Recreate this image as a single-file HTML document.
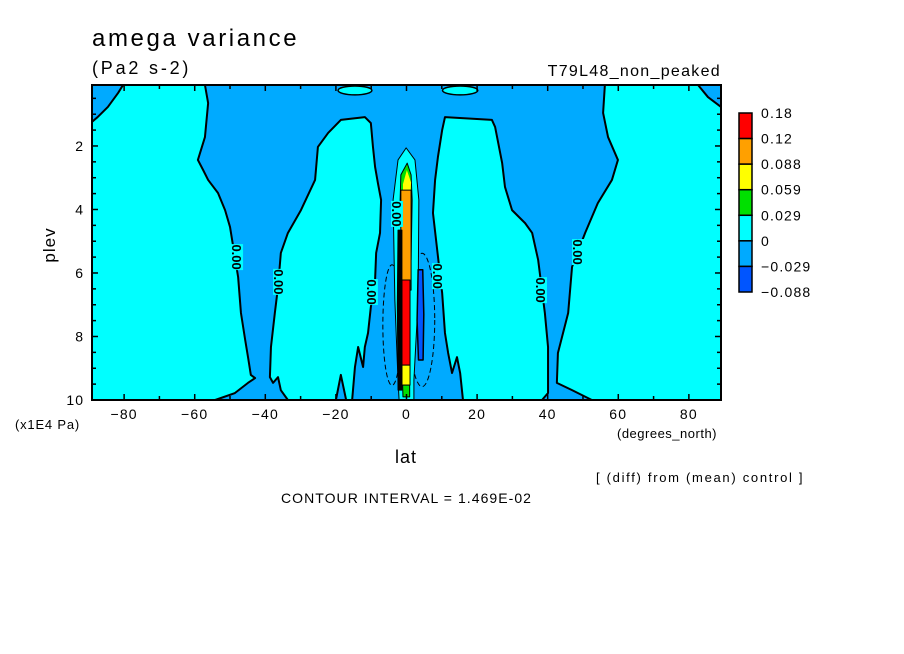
<!DOCTYPE html>
<html><head><meta charset="utf-8"><style>
html,body{margin:0;padding:0;background:#fff;width:904px;height:654px;overflow:hidden}
svg{display:block;font-family:"Liberation Sans",sans-serif}
</style></head><body>
<svg id="chart" width="904" height="654" viewBox="0 0 904 654" xmlns="http://www.w3.org/2000/svg">
<text x="92" y="46" font-size="24" letter-spacing="2.6">amega variance</text>
<text x="92" y="74" font-size="18" letter-spacing="2.8">(Pa2 s-2)</text>
<text x="721" y="76" font-size="16" text-anchor="end" letter-spacing="1.3">T79L48_non_peaked</text>
<g id="plot"></g>
<g id="axes"></g>
<g id="cbar"></g>
<text transform="translate(55,245) rotate(-90)" font-size="17" text-anchor="middle" letter-spacing="1">plev</text>
<text x="15" y="429" font-size="13" letter-spacing="0.8">(x1E4 Pa)</text>
<text x="406" y="463" font-size="18" text-anchor="middle" letter-spacing="1">lat</text>
<text x="617" y="438" font-size="13" letter-spacing="0.5">(degrees_north)</text>
<text x="596" y="482" font-size="13" letter-spacing="1.7">[ (diff) from (mean) control ]</text>
<text x="281" y="503" font-size="14" letter-spacing="1.05">CONTOUR INTERVAL = 1.469E-02</text>
</svg>
<script>
const NS="http://www.w3.org/2000/svg";
const latMin=-89.1, latMax=89.1, pTop=0.08, pBot=10;
const X0=92, X1=721, Y0=85, Y1=400;
const xTicks=[-80,-60,-40,-20,0,20,40,60,80];
const xTickLabels=["-80","-60","-40","-20","0","20","40","60","80"];
const yTicks=[2,4,6,8,10];
const yTickLabels=["2","4","6","8","10"];
const levelLabels=["0.18","0.12","0.088","0.059","0.029","0","-0.029","-0.088"];
const levelColors=["#ff0000","#ffa000","#ffff00","#00e000","#00ffff","#00aaff","#0055ff"];
// cyan (>0) regions, as [lat, plev] pairs
const regionLeft=[[-89.1,1.24],[-87.5,1.09],[-84.6,0.77],[-81.7,0.33],[-80.3,0.08],[-57.1,0.08],[-56.2,0.65],[-57.1,1.72],[-59.1,2.44],[-57.6,2.76],[-56.2,3.07],[-53.4,3.48],[-51.4,4.02],[-50.0,4.55],[-47.7,6.13],[-46.9,7.26],[-45.7,8.11],[-44.9,8.65],[-44.1,9.21],[-42.9,9.31],[-44.9,9.46],[-48.6,9.78],[-54.2,10],[-89.1,10]];
const regionMidLeft=[[-18.6,1.18],[-11.8,1.09],[-10.1,1.28],[-9.5,2.03],[-8.9,2.66],[-8.1,3.17],[-7.2,3.70],[-7.5,4.74],[-8.6,5.37],[-8.9,6.22],[-10.1,7.07],[-10.9,7.89],[-11.8,8.33],[-12.3,8.96],[-13.7,8.33],[-14.6,8.96],[-15.4,10],[-17.1,10],[-18.6,9.21],[-20.0,10],[-33.6,10],[-35.6,9.69],[-36.4,9.28],[-37.8,9.46],[-38.7,9.28],[-38.4,8.33],[-37.3,7.26],[-36.4,6.44],[-35.6,5.37],[-33.6,4.74],[-29.9,4.02],[-25.9,3.07],[-25.1,2.03],[-22.2,1.59]];
const regionMidRight=[[10.9,1.09],[24.2,1.18],[25.1,1.40],[27.1,2.54],[27.9,3.29],[29.9,4.02],[33.6,4.43],[35.6,4.74],[37.3,5.59],[39.2,7.26],[40.1,8.33],[40.1,9.78],[38.4,10],[16.0,10],[15.2,9.15],[14.3,8.65],[12.9,9.15],[11.8,8.52],[10.9,7.89],[10.1,6.63],[8.6,5.18],[7.5,4.11],[8.1,3.07],[8.9,2.35],[10.1,1.50]];
const regionRight=[[56.2,0.08],[82.6,0.08],[85.4,0.46],[89.1,0.77],[89.1,10],[52.5,10],[46.9,9.69],[42.6,9.46],[42.9,8.52],[45.8,7.26],[46.9,5.81],[50.6,4.74],[54.2,3.80],[58.2,3.07],[59.9,2.44],[57.1,1.72],[55.7,0.96]];
const blobs=[[-14.6,0.25,4.8,0.14],[15.2,0.25,5.0,0.14]];
// equatorial maximum
const eqCyan=[[-0.1,2.06],[-2.4,2.44],[-3.8,3.70],[-3.3,6.85],[-2.4,9.37],[-2.1,10],[2.1,10],[2.1,9.37],[3.3,6.85],[3.5,3.70],[2.4,2.44]];
const eqGreen=[[0.2,2.54],[-1.6,2.91],[-1.8,3.70],[-1.3,5.59],[1.3,5.59],[1.6,3.70],[1.3,2.91]];
const eqYellow=[[0.1,2.76],[-1.0,3.2],[-1.0,3.70],[1.0,3.70],[1.3,3.15]];
const eqOrange=[[-1.6,3.39],[-1.6,6.54],[1.3,6.54],[1.3,3.39]];
const eqRed=[[-1.3,6.22],[-1.3,8.90],[1.0,8.90],[1.0,6.22]];
const eqYellowLow=[[-1.3,8.90],[-1.3,9.53],[1.0,9.53],[1.0,8.90]];
const eqGreenLow=[[-1.1,9.53],[-1.0,9.9],[0.9,9.9],[0.9,9.53]];
const eqBlack=[[-2.4,4.65],[-2.6,7.0],[-2.4,9.69],[-1.3,9.69],[-1.3,4.65]];
const eqBlue=[[3.3,5.9],[3.0,7.5],[3.4,8.74],[4.7,8.74],[4.9,7.3],[4.6,5.9]];
const dashedEll=[[-4.1,7.64,2.6,1.9],[4.4,7.48,3.6,2.1]];
const zeroLabels=[[-48,5.5],[-36.1,6.28],[-9.8,6.6],[-2.7,4.14],[8.9,6.1],[38.1,6.54],[48.6,5.34]];

const sx=l=>X0+(l-latMin)/(latMax-latMin)*(X1-X0);
const sy=p=>Y0+(p-pTop)/(pBot-pTop)*(Y1-Y0);
const plot=document.getElementById('plot'), axes=document.getElementById('axes'), cbar=document.getElementById('cbar');
function mk(tag,attrs,parent){const e=document.createElementNS(NS,tag);for(const k in attrs)e.setAttribute(k,attrs[k]);parent.appendChild(e);return e;}
function poly(pts,fill,stroke,sw,name){
  const e=mk('polygon',{points:pts.map(d=>sx(d[0])+','+sy(d[1])).join(' '),fill:fill,stroke:stroke,'stroke-width':sw,'stroke-linejoin':'round'},plot);
  
  
  return e;
}
const bg=mk('rect',{x:X0,y:Y0,width:X1-X0,height:Y1-Y0,fill:'#00aaff'},plot);


poly(regionLeft,'#00ffff','#000',2,'region-left');
poly(regionMidLeft,'#00ffff','#000',2,'region-mid-left');
poly(regionMidRight,'#00ffff','#000',2,'region-mid-right');
poly(regionRight,'#00ffff','#000',2,'region-right');
blobs.forEach(b=>{const e=mk('ellipse',{cx:sx(b[0]),cy:sy(b[1]),rx:b[2]*(X1-X0)/(latMax-latMin),ry:b[3]*(Y1-Y0)/(pBot-pTop),fill:'#00ffff',stroke:'#000','stroke-width':1.5},plot);
  
  });
dashedEll.forEach(b=>{const e=mk('ellipse',{cx:sx(b[0]),cy:sy(b[1]),rx:b[2]*(X1-X0)/(latMax-latMin),ry:b[3]*(Y1-Y0)/(pBot-pTop),fill:'none',stroke:'#000','stroke-width':1,'stroke-dasharray':'5,3'},plot);
  
  });
poly(eqCyan,'#00ffff','#000',1,'eq-cyan');
poly(eqGreen,'#00e000','#000',1,'eq-green');
poly(eqYellow,'#ffff00','none',0,'eq-yellow');
poly(eqOrange,'#ffa000','#000',1,'eq-orange');
poly(eqRed,'#ff0000','#000',1,'eq-red');
poly(eqYellowLow,'#ffff00','#000',1,'eq-yellow-low');
poly(eqGreenLow,'#00e000','#000',1,'eq-green-low');
poly(eqBlack,'#000','#000',1,'eq-contour-cluster');
poly(eqBlue,'#0055ff','#000',1.5,'eq-blue');
zeroLabels.forEach(z=>{const g=mk('g',{transform:'translate('+sx(z[0])+','+sy(z[1])+') rotate(90)'},plot);
  
  
  mk('rect',{x:-13,y:-6,width:26,height:12,fill:'#00ffff'},g);
  mk('text',{x:0,y:5,'font-size':13,'font-weight':'bold','text-anchor':'middle'},g).textContent='0.00';});
// frame
const fr=mk('rect',{x:X0,y:Y0,width:X1-X0,height:Y1-Y0,fill:'none',stroke:'#000','stroke-width':2},axes);


for(let l=-80;l<=80;l+=10){const major=l%20===0, len=major?6:4, x=sx(l);
  mk('line',{x1:x,y1:Y1,x2:x,y2:Y1-len,stroke:'#000','stroke-width':1.5},axes);
  mk('line',{x1:x,y1:Y0,x2:x,y2:Y0+len,stroke:'#000','stroke-width':1.5},axes);}
for(let p=0.5;p<=10;p+=0.5){const major=p%2===0, len=major?6:4, y=sy(p);
  mk('line',{x1:X0,y1:y,x2:X0+len,y2:y,stroke:'#000','stroke-width':1.5},axes);
  mk('line',{x1:X1,y1:y,x2:X1-len,y2:y,stroke:'#000','stroke-width':1.5},axes);}
xTicks.forEach((l,i)=>{const t=mk('text',{x:sx(l),y:419,'font-size':14,'text-anchor':'middle','letter-spacing':1.2},axes);t.textContent=xTickLabels[i].replace('-','\u2212');
  
  });
yTicks.forEach((p,i)=>{const t=mk('text',{x:84,y:sy(p)+5,'font-size':14,'text-anchor':'end','letter-spacing':1},axes);t.textContent=yTickLabels[i];
  
  });
// colorbar
const cbX=739, cbW=13, cbY=113, cbH=179, n=levelColors.length;
levelColors.forEach((c,i)=>{const r=mk('rect',{x:cbX,y:cbY+i*cbH/n,width:cbW,height:cbH/n,fill:c,stroke:'#000','stroke-width':1.5},cbar);
  
  });
levelLabels.forEach((s,i)=>{const t=mk('text',{x:761,y:cbY+i*cbH/n+5,'font-size':14,'letter-spacing':1.2},cbar);t.textContent=s.replace('-','\u2212');
  
  });
</script>
</body></html>
